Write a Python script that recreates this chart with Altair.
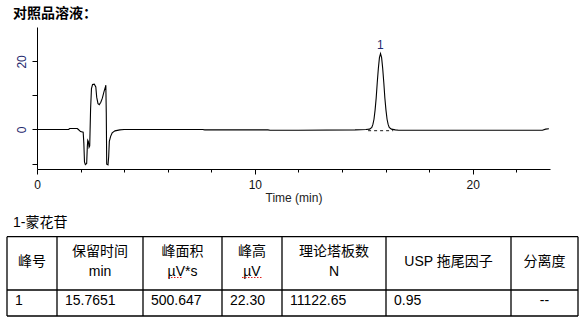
import altair as alt
import pandas as pd

# ---------------- data ----------------
time_min = [0.0, 1.45, 1.5, 1.85, 1.9, 2.0, 2.12, 2.15, 2.18, 2.22, 2.28, 2.31, 2.33, 2.36,
            2.39, 2.42, 2.46, 2.50, 2.55, 2.63, 2.70, 2.74, 2.80, 2.86, 2.93, 3.00, 3.07,
            3.14, 3.16, 3.18, 3.20, 3.26, 3.29, 3.32, 3.38, 3.45, 3.58, 3.80, 4.0, 7.6,
            7.7, 9.0, 10.6, 10.7, 12.0, 14.6, 15.1, 15.27, 15.37, 15.42, 15.47, 15.52,
            15.57, 15.62, 15.67, 15.72, 15.77, 15.82, 15.87, 15.92, 15.97, 16.02, 16.07,
            16.12, 16.17, 16.27, 16.45, 16.6, 20.0, 23.2, 23.35, 23.5]
signal_mv = [0.0, 0.0, 0.3, 0.3, 0.0, -0.6, -0.8, -4.0, -9.5, -10.3, -10.0, -5.0, -3.2, -3.6,
             -5.2, -4.8, 6.0, 12.0, 13.2, 13.3, 12.5, 9.5, 7.6, 7.3, 8.0, 9.2, 11.0,
             12.5, 13.0, 5.0, -10.2, -10.4, -8.0, -3.5, -2.0, -1.0, -0.4, -0.1, 0.0, 0.0,
             -0.1, -0.1, -0.1, -0.2, -0.2, -0.1, 0.0, 0.1, 0.6, 1.5, 3.0, 5.7,
             9.2, 13.8, 17.9, 21.1, 22.3, 21.1, 17.9, 13.8, 9.2, 5.7, 3.0,
             1.5, 0.6, 0.1, -0.1, -0.2, -0.2, -0.2, 0.1, 0.2]

baseline_t = [15.2, 16.35]
baseline_s = [-0.35, -0.35]

peak_no = ["1"]
peak_rt = [15.7651]
peak_height = [22.30]

x_ticks = list(range(0, 24))
y_ticks = [-10, 0, 10, 20]

title_text = "对照品溶液："
x_title = "Time (min)"
peak_name = "1-蒙花苷"
header_1 = ["峰号", "保留时间", "峰面积", "峰高", "理论塔板数", "USP 拖尾因子", "分离度"]
header_2 = ["", "min", "µV*s", "µV", "N", "", ""]
row_1 = ["1", "15.7651", "500.647", "22.30", "11122.65", "0.95", "--"]

# ---------------- layout (pixels, relative to plot origin) ----------------
W, H = 513, 142
PAD_L, PAD_T = 37, 27
FONT = "Liberation Sans, Arial, Noto Sans CJK SC, sans-serif"
COL_EDGES = [-30, 20, 106, 185, 245, 349, 474, 541]
ROW_EDGES = [209.7, 263, 289]
HDR_Y1, HDR_Y2, HDR_MID, ROW_Y = 224.7, 244.7, 234.5, 273.7
LABEL_COLOR = "#1f2a6e"

x_scale = alt.Scale(domain=[0, 23.55], nice=False, zero=False)
y_scale = alt.Scale(domain=[-11.6, 30.1], nice=False, zero=False)

trace_df = pd.DataFrame({"t": time_min, "s": signal_mv})
trace = alt.Chart(trace_df).mark_line(color="black", strokeWidth=1.1, interpolate="linear").encode(
    x=alt.X("t:Q", scale=x_scale, axis=alt.Axis(
        values=x_ticks, title=x_title, grid=False,
        tickSize=alt.condition("datum.value % 10 === 0", alt.value(5), alt.value(3)),
        labelExpr="datum.value % 10 === 0 ? datum.label : ''",
        labelOverlap=False, labelFlush=False, labelFont=FONT, labelFontSize=12,
        labelColor="#111111", labelPadding=5, domainColor="black", tickColor="black",
        titleFont=FONT, titleFontSize=12, titleFontWeight="normal", titleColor="#222222",
        titlePadding=2)),
    y=alt.Y("s:Q", scale=y_scale, axis=alt.Axis(
        values=y_ticks, title=None, grid=False, tickSize=5, labelAngle=270,
        labelAlign="center", labelBaseline="bottom",
        labelExpr="datum.value === 0 || datum.value === 20 ? datum.label : ''",
        labelOverlap=False, labelFlush=False, labelFont=FONT, labelFontSize=12,
        labelColor=LABEL_COLOR, labelPadding=4, domainColor="black", tickColor="black")),
)

base_df = pd.DataFrame({"t": baseline_t, "s": baseline_s})
base = alt.Chart(base_df).mark_line(color="black", strokeWidth=0.9, strokeDash=[3, 3]).encode(
    x=alt.X("t:Q", scale=x_scale), y=alt.Y("s:Q", scale=y_scale))

peak_df = pd.DataFrame({"t": peak_rt, "h": peak_height, "n": peak_no})
peak_lbl = alt.Chart(peak_df).mark_text(font=FONT, fontSize=12, color=LABEL_COLOR, dy=-9,
                                        baseline="middle", align="center").encode(
    x=alt.X("t:Q", scale=x_scale), y=alt.Y("h:Q", scale=y_scale), text="n:N")

# ---------------- title & table ----------------
title = alt.Chart(pd.DataFrame({"label": [title_text]})).mark_text(
    font=FONT, fontSize=14, fontWeight="bold", color="black", align="left", baseline="middle"
).encode(x=alt.value(-24), y=alt.value(-13), text="label:N")

name = alt.Chart(pd.DataFrame({"label": [peak_name]})).mark_text(
    font=FONT, fontSize=14, color="black", align="left", baseline="middle"
).encode(x=alt.value(-24), y=alt.value(196), text="label:N")

hlines = pd.DataFrame({"x1": [COL_EDGES[0]] * len(ROW_EDGES), "x2": [COL_EDGES[-1]] * len(ROW_EDGES),
                       "y1": ROW_EDGES, "y2": ROW_EDGES})
vlines = pd.DataFrame({"x1": COL_EDGES, "x2": COL_EDGES,
                       "y1": [ROW_EDGES[0]] * len(COL_EDGES), "y2": [ROW_EDGES[-1]] * len(COL_EDGES)})
lines_df = pd.concat([hlines, vlines], ignore_index=True)
grid = alt.Chart(lines_df).mark_rule(color="black", strokeWidth=1.3).encode(
    x=alt.X("x1:Q", scale=None), x2="x2:Q", y=alt.Y("y1:Q", scale=None), y2="y2:Q")

centers = [(COL_EDGES[i] + COL_EDGES[i + 1]) / 2 for i in range(len(COL_EDGES) - 1)]
lefts = [COL_EDGES[i] + 8 for i in range(len(COL_EDGES) - 1)]

hdr_rows = []
for i, (a, b) in enumerate(zip(header_1, header_2)):
    if b:
        hdr_rows.append({"px": centers[i], "py": HDR_Y1, "label": a})
        hdr_rows.append({"px": centers[i], "py": HDR_Y2, "label": b})
    else:
        hdr_rows.append({"px": centers[i], "py": HDR_MID, "label": a})
hdr_df = pd.DataFrame(hdr_rows)
hdr = alt.Chart(hdr_df).mark_text(font=FONT, fontSize=14, color="black", align="center",
                                  baseline="middle").encode(
    x=alt.X("px:Q", scale=None), y=alt.Y("py:Q", scale=None), text="label:N")

cell_left = pd.DataFrame({"px": lefts[:-1], "py": [ROW_Y] * (len(row_1) - 1), "label": row_1[:-1]})
cells = alt.Chart(cell_left).mark_text(font=FONT, fontSize=14, color="black", align="left",
                                       baseline="middle").encode(
    x=alt.X("px:Q", scale=None), y=alt.Y("py:Q", scale=None), text="label:N")
cell_last = pd.DataFrame({"px": [centers[-1]], "py": [ROW_Y], "label": [row_1[-1]]})
cells2 = alt.Chart(cell_last).mark_text(font=FONT, fontSize=14, color="black", align="center",
                                        baseline="middle").encode(
    x=alt.X("px:Q", scale=None), y=alt.Y("py:Q", scale=None), text="label:N")

# spell-check squiggles under the µV units
sq_df = pd.DataFrame({"x1": [131, 205], "x2": [145, 225], "y1": [250.5, 250.5]})
squig = alt.Chart(sq_df).mark_rule(color="#e02020", strokeWidth=1.2, strokeDash=[1.5, 1.5]).encode(
    x=alt.X("x1:Q", scale=None), x2="x2:Q", y=alt.Y("y1:Q", scale=None))

chart = alt.layer(trace, base, peak_lbl, title, name, grid, hdr, cells, cells2, squig).properties(
    width=W, height=H,
    background="white",
    view=alt.ViewBackground(stroke="transparent", strokeWidth=0),
    autosize=alt.AutoSizeParams(type="none"),
    padding={"left": PAD_L, "top": PAD_T, "right": 587 - PAD_L - W, "bottom": 325 - PAD_T - H},
).configure_view(stroke="transparent", strokeWidth=0)

chart.save("out.html", embed_options={"renderer": "svg", "actions": False})
